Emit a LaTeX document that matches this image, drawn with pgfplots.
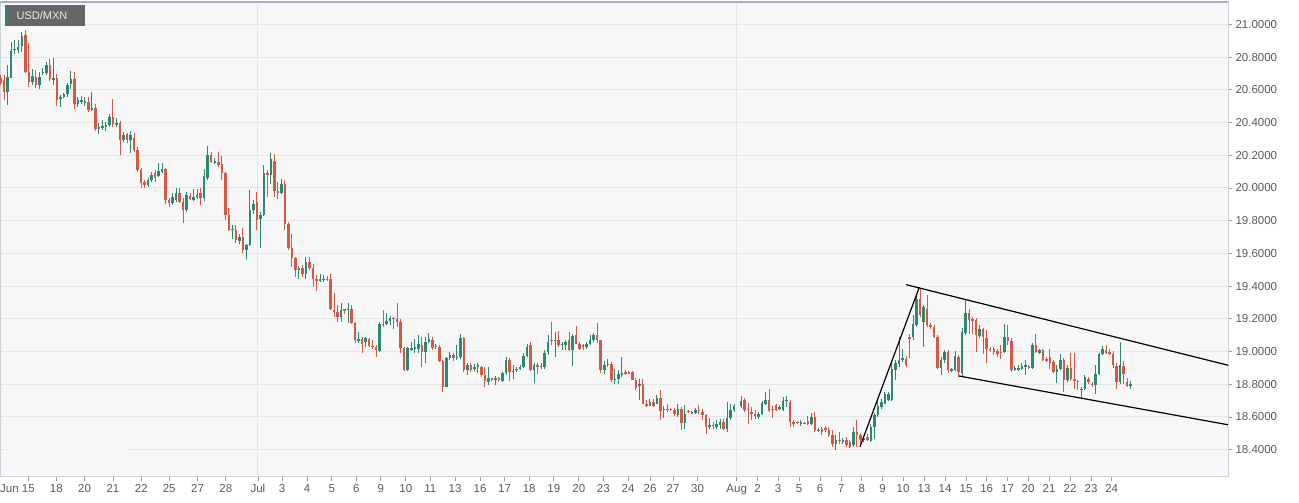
\documentclass[border=0pt]{standalone}
\usepackage{pgfplots}
\usepackage{pgfplotstable}
\pgfplotsset{compat=1.18}
\usepackage{fontspec}
\setmainfont{Liberation Sans}
\definecolor{upc}{HTML}{2A8A6F}
\definecolor{dnc}{HTML}{D85644}
\definecolor{bgc}{HTML}{F7F7F7}
\definecolor{gridc}{HTML}{E6E6E6}
\definecolor{framec}{HTML}{CDD2DE}
\definecolor{topc}{HTML}{A9AFC2}
\definecolor{labc}{HTML}{5A5A5A}

% 4-hour candles, USD/MXN: index, open, high, low, close
\pgfplotstableread{
i o h l c
0 20.674 20.690 20.630 20.640
1 20.660 20.690 20.538 20.587
2 20.589 20.752 20.507 20.680
3 20.674 20.894 20.670 20.839
4 20.843 20.908 20.819 20.851
5 20.847 20.908 20.827 20.864
6 20.868 20.955 20.833 20.929
7 20.935 20.969 20.701 20.711
8 20.711 20.884 20.615 20.650
9 20.650 20.725 20.629 20.684
10 20.680 20.721 20.609 20.629
11 20.629 20.711 20.603 20.680
12 20.701 20.731 20.690 20.711
13 20.705 20.772 20.690 20.752
14 20.752 20.792 20.656 20.664
15 20.660 20.798 20.629 20.670
16 20.670 20.697 20.501 20.538
17 20.542 20.568 20.497 20.554
18 20.558 20.582 20.548 20.572
19 20.574 20.640 20.558 20.629
20 20.635 20.717 20.603 20.664
21 20.664 20.711 20.481 20.513
22 20.513 20.558 20.497 20.538
23 20.527 20.562 20.513 20.538
24 20.523 20.558 20.501 20.534
25 20.527 20.558 20.466 20.477
26 20.477 20.589 20.472 20.487
27 20.487 20.513 20.350 20.358
28 20.358 20.395 20.330 20.371
29 20.365 20.415 20.354 20.379
30 20.371 20.405 20.350 20.385
31 20.385 20.452 20.375 20.436
32 20.432 20.542 20.375 20.391
33 20.385 20.426 20.375 20.395
34 20.399 20.411 20.202 20.293
35 20.293 20.344 20.283 20.324
36 20.330 20.338 20.277 20.293
37 20.293 20.348 20.212 20.324
38 20.303 20.334 20.222 20.232
39 20.232 20.253 20.100 20.110
40 20.110 20.120 19.998 20.033
41 20.039 20.049 19.998 20.018
42 20.018 20.059 20.008 20.049
43 20.049 20.100 20.039 20.079
44 20.090 20.110 20.039 20.059
45 20.073 20.155 20.069 20.106
46 20.100 20.155 20.090 20.114
47 20.114 20.120 19.902 19.927
48 19.927 19.937 19.882 19.910
49 19.910 19.967 19.896 19.947
50 19.927 19.998 19.917 19.967
51 19.967 19.998 19.910 19.917
52 19.917 19.937 19.788 19.866
53 19.866 19.978 19.855 19.957
54 19.951 19.971 19.927 19.931
55 19.927 19.992 19.923 19.947
56 19.947 19.992 19.931 19.957
57 19.967 19.998 19.896 19.937
58 19.937 20.114 19.923 20.073
59 20.059 20.257 20.049 20.202
60 20.202 20.222 20.151 20.161
61 20.153 20.181 20.147 20.165
62 20.161 20.222 20.130 20.141
63 20.149 20.194 20.050 20.092
64 20.092 20.100 19.803 19.833
65 19.833 19.876 19.740 19.742
66 19.742 19.772 19.691 19.748
67 19.746 19.772 19.664 19.681
68 19.677 19.721 19.660 19.701
69 19.701 19.756 19.603 19.620
70 19.620 19.660 19.563 19.650
71 19.650 19.990 19.645 19.864
72 19.864 19.929 19.844 19.905
73 19.915 19.976 19.742 19.807
74 19.813 19.854 19.636 19.837
75 19.833 20.139 19.827 20.092
76 20.092 20.112 19.945 20.078
77 20.078 20.214 20.027 20.180
78 20.165 20.210 19.945 19.980
79 19.980 20.037 19.935 19.970
80 19.970 20.057 19.966 20.027
81 20.027 20.047 19.742 19.778
82 19.778 19.793 19.620 19.630
83 19.630 19.721 19.518 19.569
84 19.569 19.579 19.457 19.497
85 19.497 19.522 19.446 19.508
86 19.508 19.528 19.457 19.473
87 19.473 19.579 19.446 19.548
88 19.548 19.579 19.497 19.508
89 19.508 19.538 19.396 19.446
90 19.442 19.467 19.371 19.432
91 19.432 19.477 19.426 19.446
92 19.440 19.467 19.426 19.446
93 19.446 19.461 19.432 19.436
94 19.446 19.477 19.253 19.257
95 19.257 19.359 19.212 19.243
96 19.243 19.283 19.182 19.212
97 19.212 19.294 19.182 19.253
98 19.257 19.263 19.229 19.249
99 19.253 19.294 19.176 19.263
100 19.263 19.283 19.171 19.176
101 19.176 19.182 19.049 19.070
102 19.066 19.121 19.049 19.074
103 19.074 19.090 18.992 19.045
104 19.059 19.090 19.025 19.080
105 19.074 19.080 19.029 19.033
106 19.033 19.070 19.013 19.025
107 19.029 19.039 18.968 19.009
108 19.005 19.182 18.998 19.167
109 19.171 19.253 19.151 19.163
110 19.171 19.237 19.161 19.186
111 19.186 19.216 19.161 19.206
112 19.206 19.212 19.135 19.196
113 19.196 19.294 19.151 19.180
114 19.180 19.196 18.992 19.019
115 19.019 19.029 18.882 18.886
116 18.886 19.029 18.882 19.019
117 19.009 19.059 19.005 19.019
118 19.013 19.074 18.992 19.025
119 19.013 19.100 18.988 19.045
120 19.039 19.086 18.903 18.998
121 18.998 19.090 18.927 19.059
122 19.057 19.114 19.049 19.074
123 19.070 19.090 19.009 19.019
124 19.025 19.045 19.013 19.033
125 19.029 19.039 18.937 18.943
126 18.943 18.947 18.754 18.784
127 18.784 18.968 18.780 18.958
128 18.958 18.998 18.947 18.978
129 18.978 18.988 18.943 18.958
130 18.958 19.039 18.947 18.968
131 18.968 19.110 18.953 19.080
132 19.080 19.090 18.876 18.886
133 18.886 18.927 18.856 18.917
134 18.917 18.927 18.876 18.886
135 18.890 18.923 18.880 18.903
136 18.903 18.927 18.866 18.917
137 18.903 18.911 18.846 18.856
138 18.856 18.903 18.780 18.821
139 18.815 18.903 18.795 18.841
140 18.835 18.837 18.821 18.825
141 18.825 18.850 18.795 18.835
142 18.835 18.846 18.815 18.825
143 18.821 18.876 18.815 18.866
144 18.866 18.964 18.856 18.947
145 18.947 18.958 18.821 18.876
146 18.874 18.917 18.829 18.882
147 18.886 18.903 18.876 18.892
148 18.892 18.917 18.888 18.903
149 18.903 18.988 18.897 18.972
150 18.972 19.045 18.968 19.025
151 19.039 19.059 18.882 18.886
152 18.886 18.927 18.805 18.917
153 18.917 18.931 18.860 18.907
154 18.903 18.927 18.892 18.911
155 18.903 19.009 18.890 18.992
156 18.998 19.100 18.978 19.059
157 19.072 19.180 19.037 19.064
158 19.064 19.119 18.966 19.072
159 19.072 19.125 19.027 19.037
160 19.037 19.057 19.011 19.043
161 19.037 19.068 19.007 19.057
162 19.068 19.119 19.002 19.011
163 19.011 19.108 18.909 19.092
164 19.102 19.159 19.043 19.047
165 19.047 19.057 19.011 19.017
166 19.037 19.043 19.011 19.027
167 19.027 19.057 19.017 19.047
168 19.047 19.098 19.037 19.068
169 19.068 19.112 19.061 19.104
170 19.104 19.174 19.051 19.068
171 19.068 19.072 18.868 18.884
172 18.884 18.945 18.864 18.915
173 18.915 18.956 18.905 18.925
174 18.925 18.935 18.813 18.823
175 18.823 18.894 18.803 18.833
176 18.833 18.884 18.799 18.860
177 18.856 18.966 18.844 18.868
178 18.874 18.884 18.854 18.864
179 18.874 18.880 18.860 18.864
180 18.874 18.880 18.823 18.827
181 18.827 18.839 18.762 18.778
182 18.787 18.833 18.701 18.799
183 18.799 18.833 18.677 18.681
184 18.681 18.705 18.660 18.668
185 18.668 18.711 18.664 18.691
186 18.691 18.711 18.660 18.668
187 18.681 18.732 18.677 18.717
188 18.717 18.762 18.579 18.636
189 18.640 18.664 18.595 18.648
190 18.650 18.681 18.630 18.640
191 18.650 18.656 18.636 18.640
192 18.644 18.656 18.603 18.615
193 18.609 18.677 18.599 18.650
194 18.650 18.660 18.522 18.563
195 18.563 18.670 18.528 18.620
196 18.636 18.640 18.624 18.628
197 18.630 18.636 18.615 18.620
198 18.624 18.656 18.615 18.644
199 18.644 18.670 18.620 18.636
200 18.630 18.650 18.583 18.609
201 18.609 18.620 18.497 18.538
202 18.538 18.595 18.528 18.548
203 18.548 18.569 18.528 18.542
204 18.538 18.583 18.528 18.554
205 18.548 18.589 18.528 18.569
206 18.569 18.589 18.522 18.528
207 18.528 18.691 18.508 18.595
208 18.595 18.681 18.583 18.640
209 18.640 18.681 18.630 18.664
211 18.664 18.725 18.656 18.697
212 18.701 18.717 18.630 18.644
213 18.650 18.685 18.558 18.640
214 18.630 18.660 18.579 18.615
215 18.615 18.640 18.589 18.603
216 18.599 18.630 18.589 18.620
217 18.620 18.697 18.609 18.685
218 18.681 18.752 18.670 18.705
219 18.705 18.772 18.630 18.636
220 18.650 18.664 18.595 18.640
221 18.670 18.677 18.636 18.640
222 18.650 18.670 18.644 18.660
223 18.640 18.721 18.636 18.697
224 18.697 18.730 18.660 18.700
225 18.692 18.702 18.539 18.569
226 18.569 18.580 18.539 18.559
227 18.569 18.575 18.555 18.563
228 18.555 18.580 18.543 18.569
229 18.563 18.567 18.555 18.559
230 18.575 18.603 18.551 18.559
231 18.559 18.624 18.549 18.600
232 18.600 18.631 18.508 18.522
233 18.514 18.530 18.508 18.522
234 18.529 18.539 18.488 18.508
235 18.533 18.543 18.508 18.518
236 18.522 18.539 18.478 18.488
237 18.488 18.518 18.416 18.437
238 18.437 18.488 18.400 18.461
239 18.461 18.508 18.437 18.453
240 18.447 18.473 18.437 18.461
241 18.461 18.478 18.416 18.427
242 18.447 18.457 18.412 18.416
243 18.427 18.539 18.416 18.508
244 18.508 18.584 18.416 18.488
245 18.490 18.500 18.416 18.461
246 18.461 18.478 18.447 18.474
247 18.478 18.494 18.453 18.461
248 18.453 18.559 18.447 18.539
249 18.539 18.624 18.467 18.610
250 18.610 18.702 18.600 18.665
251 18.661 18.712 18.651 18.692
252 18.682 18.753 18.678 18.739
253 18.706 18.753 18.698 18.743
254 18.702 18.927 18.698 18.896
255 18.890 18.947 18.824 18.927
256 18.922 19.090 18.906 18.947
257 18.947 19.018 18.937 18.963
258 18.957 18.971 18.906 18.916
259 19.090 19.110 18.960 19.076
260 19.086 19.222 19.073 19.170
261 19.160 19.350 19.150 19.323
262 19.323 19.384 19.210 19.221
263 19.180 19.282 19.029 19.272
264 19.262 19.344 19.150 19.160
265 19.165 19.175 19.140 19.150
266 19.150 19.161 19.080 19.090
267 19.090 19.100 18.890 18.902
268 18.902 18.967 18.855 18.951
269 18.947 19.008 18.927 18.998
270 18.998 19.008 18.869 18.886
271 18.882 18.902 18.876 18.896
272 18.890 19.004 18.882 18.971
273 18.967 18.978 18.845 18.876
274 18.869 19.141 18.845 19.120
275 19.114 19.314 19.100 19.233
276 19.233 19.263 19.110 19.192
277 19.196 19.212 19.110 19.188
278 19.192 19.202 18.998 19.100
279 19.094 19.161 19.080 19.135
280 19.135 19.141 18.984 19.090
281 19.080 19.131 18.927 19.018
282 19.018 19.029 18.998 19.008
283 19.018 19.029 18.978 18.998
284 19.004 19.018 18.967 18.984
285 18.998 19.039 18.957 18.988
286 18.998 19.167 18.992 19.086
287 19.086 19.161 19.039 19.065
288 19.065 19.080 18.876 18.890
289 18.890 18.912 18.882 18.902
290 18.890 18.916 18.882 18.902
291 18.896 18.927 18.886 18.910
292 18.906 18.947 18.855 18.916
293 18.910 18.920 18.896 18.902
294 18.902 19.053 18.896 19.039
295 19.039 19.106 18.992 18.998
296 18.992 19.018 18.984 19.008
297 19.008 19.018 18.943 18.947
298 18.957 18.967 18.937 18.943
299 18.967 19.018 18.890 18.927
300 18.937 18.947 18.869 18.876
301 18.876 18.916 18.808 18.896
302 18.890 18.984 18.886 18.947
303 18.947 18.963 18.753 18.824
304 18.824 18.916 18.814 18.902
305 18.902 18.992 18.820 18.829
306 18.835 18.992 18.773 18.820
307 18.820 18.824 18.763 18.814
308 18.763 18.784 18.718 18.773
309 18.773 18.855 18.763 18.845
310 18.829 18.845 18.804 18.814
311 18.804 18.814 18.784 18.794
312 18.794 18.916 18.743 18.865
313 18.865 18.992 18.855 18.984
314 18.984 19.033 18.978 19.018
315 19.008 19.039 18.984 18.988
316 18.998 19.018 18.978 18.984
317 18.984 19.004 18.902 18.916
318 18.910 18.927 18.773 18.814
319 18.814 19.059 18.804 18.916
320 18.910 18.943 18.804 18.860
321 18.814 18.841 18.780 18.788
322 18.788 18.820 18.773 18.804
}\candles

\begin{document}
\begin{tikzpicture}[x=1pt,y=1pt]
\begin{axis}[
  scale only axis, width=1228pt, height=475pt,
  xmin=0, xmax=1228, ymin=18.2325, ymax=21.1376,
  axis background/.style={fill=bgc},
  axis line style={framec, line width=1pt},
  ytick={18.4,18.6,18.8,19.0,19.2,19.4,19.6,19.8,20.0,20.2,20.4,20.6,20.8,21.0},
  yticklabels={18.4000,18.6000,18.8000,19.0000,19.2000,19.4000,19.6000,19.8000,20.0000,20.2000,20.4000,20.6000,20.8000,21.0000},
  ytick pos=right, yticklabel pos=right,
  xtick pos=bottom,
  tick align=outside, major tick length=4pt,
  tick style={color=black!40, line width=0.8pt},
  ymajorgrids, grid style={gridc, line width=1pt},
  xtick={27.9,56.3,84.6,112.9,141.3,169.2,197.5,225.8,257.9,282,307,331.7,356.3,380.8,405.8,430.4,455,480,504.6,529.2,553.75,578.75,603.3,628,650,673,697.5,736.7,757.5,778,799,820,841,861.7,882.5,903,924,945,966,986.7,1007.5,1028,1049,1070,1091,1111.7},
  xticklabels={{\hspace*{-21pt}Jun 15},18,20,21,22,25,27,28,Jul,3,4,5,6,9,10,11,13,16,17,18,19,20,23,24,26,27,30,Aug,2,3,5,6,7,8,9,10,13,14,15,16,17,20,21,22,23,24},
  extra x ticks={257.9,736.7}, extra x tick labels={},
  extra x tick style={grid=major, major tick length=0pt},
  ticklabel style={font=\fontsize{11.5}{13}\selectfont, text=labc},
]
% gap in the lowest grid line at the left
\draw[bgc, line width=2pt] (axis cs:7,18.4) -- (axis cs:128,18.4);
% wicks
\addplot[upc, line width=1pt, quiver={u=0, v=\thisrow{h}-\thisrow{l}},
  restrict expr to domain={\thisrow{c}-\thisrow{o}}{0:10}]
  table[x expr=0.7+3.509*\thisrow{i}, y=l] {\candles};
\addplot[dnc, line width=1pt, quiver={u=0, v=\thisrow{h}-\thisrow{l}},
  restrict expr to domain={\thisrow{o}-\thisrow{c}}{0.00001:10}]
  table[x expr=0.7+3.509*\thisrow{i}, y=l] {\candles};
% bodies
\addplot[upc, line width=2.5pt, quiver={u=0, v={max(\thisrow{c}-\thisrow{o},0.004)}},
  restrict expr to domain={\thisrow{c}-\thisrow{o}}{0:10}]
  table[x expr=0.7+3.509*\thisrow{i}, y expr={(\thisrow{o}+\thisrow{c})/2-max(\thisrow{c}-\thisrow{o},0.004)/2}] {\candles};
\addplot[dnc, line width=2.5pt, quiver={u=0, v={max(\thisrow{o}-\thisrow{c},0.004)}},
  restrict expr to domain={\thisrow{o}-\thisrow{c}}{0.00001:10}]
  table[x expr=0.7+3.509*\thisrow{i}, y expr={(\thisrow{o}+\thisrow{c})/2-max(\thisrow{o}-\thisrow{c},0.004)/2}] {\candles};
% trend lines
\addplot[black, line width=1.2pt] coordinates {(860,18.418) (919.3,19.393)};
\addplot[black, line width=1.2pt] coordinates {(906,19.409) (1228,18.916)};
\addplot[black, line width=1.2pt] coordinates {(959,18.850) (1228,18.552)};
\coordinate (p) at (rel axis cs:0,0);
\coordinate (q) at (rel axis cs:1,1);
\end{axis}
\draw[topc, line width=1.2pt] (p |- q) -- (q);
% symbol tag, placed from the plot's lower left corner
\begin{scope}[shift={(p)}]
\fill[black!60] (5,451.3) rectangle (85,472);
\fill[upc] (5,451.3) rectangle (7,472);
\node[text=white!92!black, font=\fontsize{11}{13}\selectfont, inner sep=0pt] at (42,461.5) {USD/MXN};
\end{scope}
\pgfresetboundingbox
\path[use as bounding box] (p) ++(0,-26) rectangle ++(1299,503);
\end{tikzpicture}
\end{document}
